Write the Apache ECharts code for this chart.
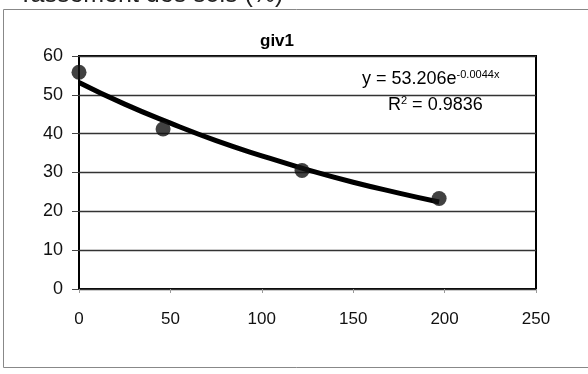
<!DOCTYPE html>
<html><head><meta charset="utf-8">
<script src="https://cdn.jsdelivr.net/npm/echarts@6/dist/echarts.min.js"></script>
<style>html,body{margin:0;padding:0;background:#fff}#c{width:588px;height:374px}</style>
</head><body><div id="c"></div>
<script>
var pointsX = [0, 46, 122, 197];
var pointsY = [55.8, 41.2, 30.5, 23.3];
var trendX = [0, 25, 50, 75, 100, 125, 150, 175, 197];
var trendY = [53.2, 47.6, 42.7, 38.2, 34.3, 30.7, 27.5, 24.7, 22.4];
var yTicks = [0, 10, 20, 30, 40, 50, 60];
var xTicks = [0, 50, 100, 150, 200, 250];
var titleText = 'giv1';
var eqCoef = '53.206', eqExp = '-0.0044x', r2 = '0.9836';

var chart = echarts.init(document.getElementById('c'));
var font = 'Liberation Sans, Arial, sans-serif';
chart.setOption({
  animation: false,
  title: {text: titleText, left: 272, top: 28, textAlign: 'center',
    textStyle: {fontFamily: font, fontSize: 17, fontWeight: 'bold', color: '#000'}},
  grid: {left: 79, right: 52, top: 56, bottom: 85, show: true, borderColor: '#000', borderWidth: 2},
  xAxis: {type: 'value', min: xTicks[0], max: xTicks[xTicks.length-1], interval: 50,
    axisLine: {show: false}, splitLine: {show: false},
    axisTick: {show: true, length: 4, lineStyle: {color: '#999'}},
    axisLabel: {margin: 22, fontFamily: font, fontSize: 17, color: '#111'}},
  yAxis: {type: 'value', min: yTicks[0], max: yTicks[yTicks.length-1], interval: 10,
    axisLine: {show: false},
    splitLine: {show: true, lineStyle: {color: '#333', width: 1.3}},
    axisTick: {show: true, inside: false, length: 7, lineStyle: {color: '#444'}},
    axisLabel: {margin: 16, fontFamily: font, fontSize: 18, color: '#111'}},
  graphic: [
    {type: 'rect', shape: {x: 3.5, y: 9.5, width: 620, height: 358}, style: {fill: 'none', stroke: '#888', lineWidth: 1}, z: -1},
    {type: 'text', left: 18, top: -17, style: {text: 'Tassement des sols (%)', fontFamily: font, fontSize: 25, fill: '#222'}},
    {type: 'text', left: 362, top: 69, style: {
      text: '{b|y = ' + eqCoef + 'e}{s|' + eqExp + '}',
      rich: {b: {fontFamily: font, fontSize: 18, color: '#000'},
             s: {fontFamily: font, fontSize: 11, color: '#000', padding: [0,0,10,0]}}}},
    {type: 'text', left: 388, top: 95, style: {
      text: '{b|R}{s|2}{b| = ' + r2 + '}',
      rich: {b: {fontFamily: font, fontSize: 18, color: '#000'},
             s: {fontFamily: font, fontSize: 11, color: '#000', padding: [0,0,10,0]}}}}
  ],
  series: [
    {type: 'line', data: trendX.map(function(x,i){return [x, trendY[i]];}), smooth: true, showSymbol: false,
      lineStyle: {color: '#000', width: 5}, z: 3},
    {type: 'scatter', data: pointsX.map(function(x,i){return [x, pointsY[i]];}), symbolSize: 15,
      itemStyle: {color: '#111'}, z: 4}
  ]
});
</script></body></html>
